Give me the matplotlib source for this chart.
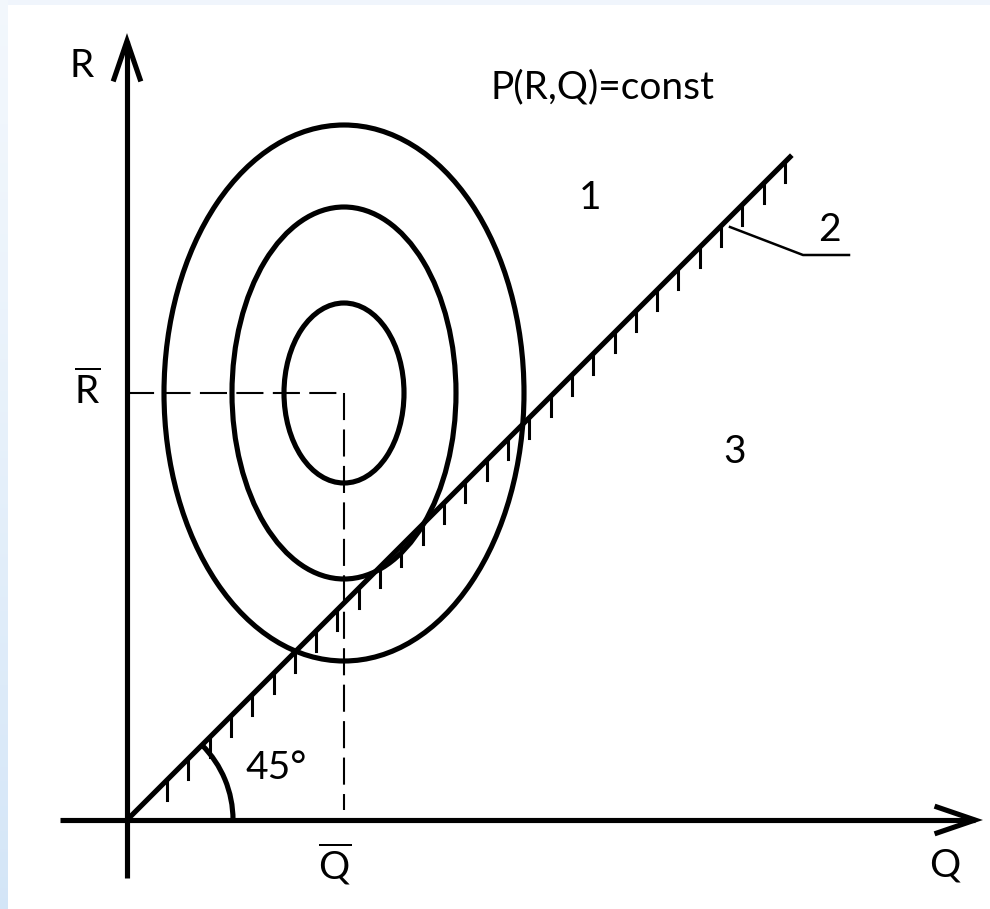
#!/usr/bin/env python3
"""Feasible region diagram: iso-probability ellipses P(R,Q)=const and the R=Q boundary"""

import numpy as np
import matplotlib.pyplot as plt
from matplotlib.patches import Ellipse, Arc, Rectangle

plt.rcParams["font.family"] = ["Lato", "DejaVu Sans"]
plt.rcParams["mathtext.fontset"] = "custom"
plt.rcParams["mathtext.rm"] = "Lato"

# coordinates in drawing units, origin at the axes crossing
q_mean = 217
r_mean = 427
ellipse_half_widths = [60, 112, 180]
ellipse_half_heights = [90, 186, 268]
boundary_end = 663
hatch_q = np.linspace(40, 658, 30)
hatch_len = 20
angle_radius = 106
r_axis = (-58, 779)
q_axis = (-67, 848)
region_labels = ["1", "2", "3"]
region_pos = [(463, 622), (702, 590), (608, 368)]

INK = "black"
LW = 3.7

fig = plt.figure(figsize=(9.9, 9.09), dpi=100)
ax = fig.add_axes([0, 0, 1, 1])
ax.set_xlim(-127, 863)
ax.set_ylim(-89, 820)
ax.set_aspect("equal")
ax.axis("off")

# pale blue frame along left and top edges
grad = np.linspace(0, 1, 256).reshape(-1, 1)
top_c = np.array([0.95, 0.97, 0.99])
bot_c = np.array([0.83, 0.90, 0.97])
strip = top_c + (bot_c - top_c) * grad[:, :, None] ** 1.3
ax.imshow(strip, extent=(-127, -119, -89, 820), aspect="auto", zorder=0)
ax.add_patch(Rectangle((-119, 815), 982, 5, color="#f0f5fc", lw=0, zorder=0))

# axes with open arrow heads
ax.plot([0, 0], r_axis, color=INK, lw=LW, solid_capstyle="butt")
ax.plot(q_axis, [0, 0], color=INK, lw=LW, solid_capstyle="butt")
ax.plot([-13, 0, 13], [r_axis[1] - 38, r_axis[1], r_axis[1] - 38],
        color=INK, lw=LW, solid_joinstyle="miter")
ax.plot([q_axis[1] - 38, q_axis[1], q_axis[1] - 38], [13, 0, -13],
        color=INK, lw=LW, solid_joinstyle="miter")

# mean lines
ax.plot([0, q_mean], [r_mean, r_mean], color=INK, lw=1.5, dashes=(13, 4.5))
ax.plot([q_mean, q_mean], [r_mean, 10], color=INK, lw=1.5, dashes=(13, 4.5))

# iso-probability ellipses
for a, b in zip(ellipse_half_widths, ellipse_half_heights):
    ax.add_patch(Ellipse((q_mean, r_mean), 2 * a, 2 * b, fill=False,
                         edgecolor=INK, lw=LW, zorder=3))

# boundary R = Q with hatching on the lower side
ax.plot([0, boundary_end], [0, boundary_end], color=INK, lw=LW, zorder=4)
for q in hatch_q:
    ax.plot([q, q], [q, q - hatch_len], color=INK, lw=2.2, zorder=4)

# 45 degree arc
ax.add_patch(Arc((0, 0), 2 * angle_radius, 2 * angle_radius, theta1=0,
                 theta2=45, edgecolor=INK, lw=LW, zorder=4))

# leader for label 2
ax.plot([603, 676, 722], [593, 565, 565], color=INK, lw=1.8)

fs = 28
ax.text(-45, 754, "R", fontsize=fs, ha="center", va="center")
ax.text(818, -45, "Q", fontsize=fs, ha="center", va="center")
ax.text(-40, r_mean + 2, r"$\overline{\mathrm{R}}$", fontsize=fs,
        ha="center", va="center")
ax.text(q_mean - 9, -44, r"$\overline{\mathrm{Q}}$", fontsize=fs,
        ha="center", va="center")
ax.text(475, 733, "P(R,Q)=const", fontsize=fs, ha="center", va="center")
ax.text(149, 52, "45°", fontsize=fs, ha="center", va="center")
for lab, (x, y) in zip(region_labels, region_pos):
    ax.text(x, y, lab, fontsize=fs, ha="center", va="center")

fig.savefig("out.png", dpi=100)
